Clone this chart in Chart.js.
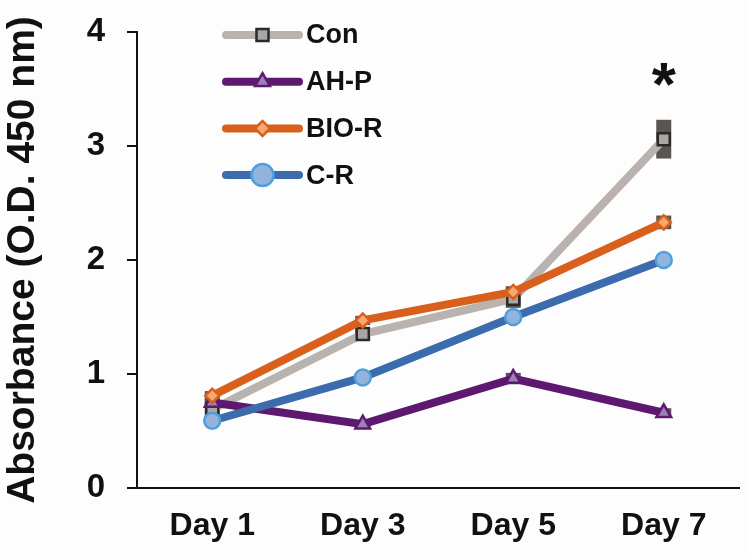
<!DOCTYPE html>
<html>
<head>
<meta charset="utf-8">
<script src="https://cdn.jsdelivr.net/npm/chart.js@4/dist/chart.umd.min.js"></script>
<style>
  html, body { margin: 0; padding: 0; background: #fdfdfd; }
  #wrap { width: 750px; height: 559px; position: relative; }
</style>
</head>
<body>
<div id="wrap"><canvas id="absChart" width="750" height="559"></canvas></div>
<script>
// data
const days = ['Day 1', 'Day 3', 'Day 5', 'Day 7'];
const seriesNames = ['Con', 'AH-P', 'BIO-R', 'C-R'];
const conVals = [0.69, 1.35, 1.66, 3.06];
const ahpVals = [0.75, 0.56, 0.96, 0.66];
const bioVals = [0.81, 1.47, 1.72, 2.33];
const crVals = [0.59, 0.97, 1.50, 2.00];
const conErr = [0.07, 0.06, 0.08, 0.17];
const ahpErr = [0.03, 0.03, 0.05, 0.04];
const bioErr = [0.04, 0.04, 0.05, 0.06];
const crErr = [0.04, 0.03, 0.03, 0.04];
const yTicks = [0, 1, 2, 3, 4];
const starLabel = '*';

const FONT = '"Liberation Sans", Arial, Helvetica, sans-serif';

function mkSet(label, data, err, line, fill, edge, style, radius, legendRadius, order) {
    return {
        label: label,
        data: data,
        errors: err,
        legendRadius: legendRadius,
        borderColor: line,
        borderWidth: 8,
        pointStyle: style,
        pointRadius: radius,
        pointHoverRadius: radius,
        pointBackgroundColor: fill,
        pointBorderColor: edge,
        pointBorderWidth: 2.5,
        tension: 0,
        order: order
    };
}

const datasets = [
    mkSet(seriesNames[0], conVals, conErr, '#bab2ae', '#aaa6a3', '#2a2a2a', 'rect', 8.5, 8.5, 3),
    mkSet(seriesNames[1], ahpVals, ahpErr, '#5d1870', '#9c80b8', '#5d1870', 'triangle', 8.5, 8.5, 2),
    mkSet(seriesNames[2], bioVals, bioErr, '#d8601c', '#f7a971', '#d8601c', 'rectRot', 7, 7.5, 1),
    mkSet(seriesNames[3], crVals, crErr, '#3c6cad', '#93b2dc', '#4d9fe0', 'circle', 8, 11, 0)
];

// dark error boxes behind the markers
const errorBars = {
    id: 'errorBars',
    beforeDatasetsDraw(chart) {
        const ctx = chart.ctx;
        const y = chart.scales.y;
        ctx.save();
        ctx.fillStyle = 'rgba(70,66,64,0.9)';
        chart.data.datasets.forEach(function (ds, i) {
            const meta = chart.getDatasetMeta(i);
            meta.data.forEach(function (pt, j) {
                const top = y.getPixelForValue(ds.data[j] + ds.errors[j]);
                const bot = y.getPixelForValue(ds.data[j] - ds.errors[j]);
                ctx.fillRect(pt.x - 7.5, top, 15, bot - top);
            });
        });
        ctx.restore();
    }
};

// legend inside plot + asterisk
const overlay = {
    id: 'overlay',
    afterDraw(chart) {
        const ctx = chart.ctx;
        ctx.save();
        const x0 = 226, x1 = 299, y0 = 35, gap = 46.7;
        chart.data.datasets.forEach(function (ds, i) {
            const yy = y0 + i * gap;
            ctx.strokeStyle = ds.borderColor;
            ctx.lineWidth = 8;
            ctx.lineCap = 'round';
            ctx.beginPath();
            ctx.moveTo(x0, yy);
            ctx.lineTo(x1, yy);
            ctx.stroke();
            ctx.fillStyle = ds.pointBackgroundColor;
            ctx.strokeStyle = ds.pointBorderColor;
            ctx.lineWidth = ds.pointBorderWidth;
            Chart.helpers.drawPoint(ctx, {
                pointStyle: ds.pointStyle,
                radius: ds.legendRadius,
                borderWidth: ds.pointBorderWidth
            }, (x0 + x1) / 2, yy);
            ctx.fillStyle = '#111';
            ctx.font = 'bold 27px ' + FONT;
            ctx.textBaseline = 'middle';
            ctx.textAlign = 'left';
            ctx.fillText(ds.label, x1 + 7, yy + 1);
        });
        const meta = chart.getDatasetMeta(0);
        const last = meta.data[meta.data.length - 1];
        ctx.fillStyle = '#111';
        ctx.font = 'bold 62px ' + FONT;
        ctx.textAlign = 'center';
        ctx.textBaseline = 'middle';
        ctx.fillText(starLabel, last.x, 88);
        ctx.restore();
    }
};

new Chart(document.getElementById('absChart').getContext('2d'), {
    type: 'line',
    data: { labels: days, datasets: datasets },
    options: {
        responsive: false,
        animation: false,
        layout: { padding: { top: 32, right: 0, left: 0, bottom: 0 } },
        plugins: {
            legend: { display: false },
            tooltip: { enabled: false }
        },
        scales: {
            x: {
                offset: true,
                afterFit(axis) {
                    axis.height = 71;
                    axis.paddingLeft = 0;
                    axis.paddingRight = 0;
                },
                grid: { display: true, drawOnChartArea: false, drawTicks: false },
                border: { color: '#111', width: 2 },
                ticks: {
                    color: '#111',
                    font: { family: FONT, size: 32, weight: 'bold' },
                    padding: 19
                }
            },
            y: {
                min: 0,
                max: 4,
                afterFit(axis) {
                    axis.width = 137;
                    axis.paddingTop = 0;
                    axis.paddingBottom = 0;
                },
                afterBuildTicks(axis) {
                    axis.ticks = yTicks.map(function (v) { return { value: v }; });
                },
                grid: { drawOnChartArea: false, drawTicks: true, tickLength: 10, color: '#111', lineWidth: 2 },
                border: { color: '#111', width: 2 },
                ticks: {
                    color: '#111',
                    font: { family: FONT, size: 33, weight: 'bold' },
                    padding: 22
                },
                title: {
                    display: true,
                    text: 'Absorbance (O.D. 450 nm)',
                    color: '#111',
                    font: { family: FONT, size: 39, weight: 'bold' },
                    padding: { top: 0, bottom: 0 }
                }
            }
        }
    },
    plugins: [errorBars, overlay]
});
</script>
</body>
</html>
